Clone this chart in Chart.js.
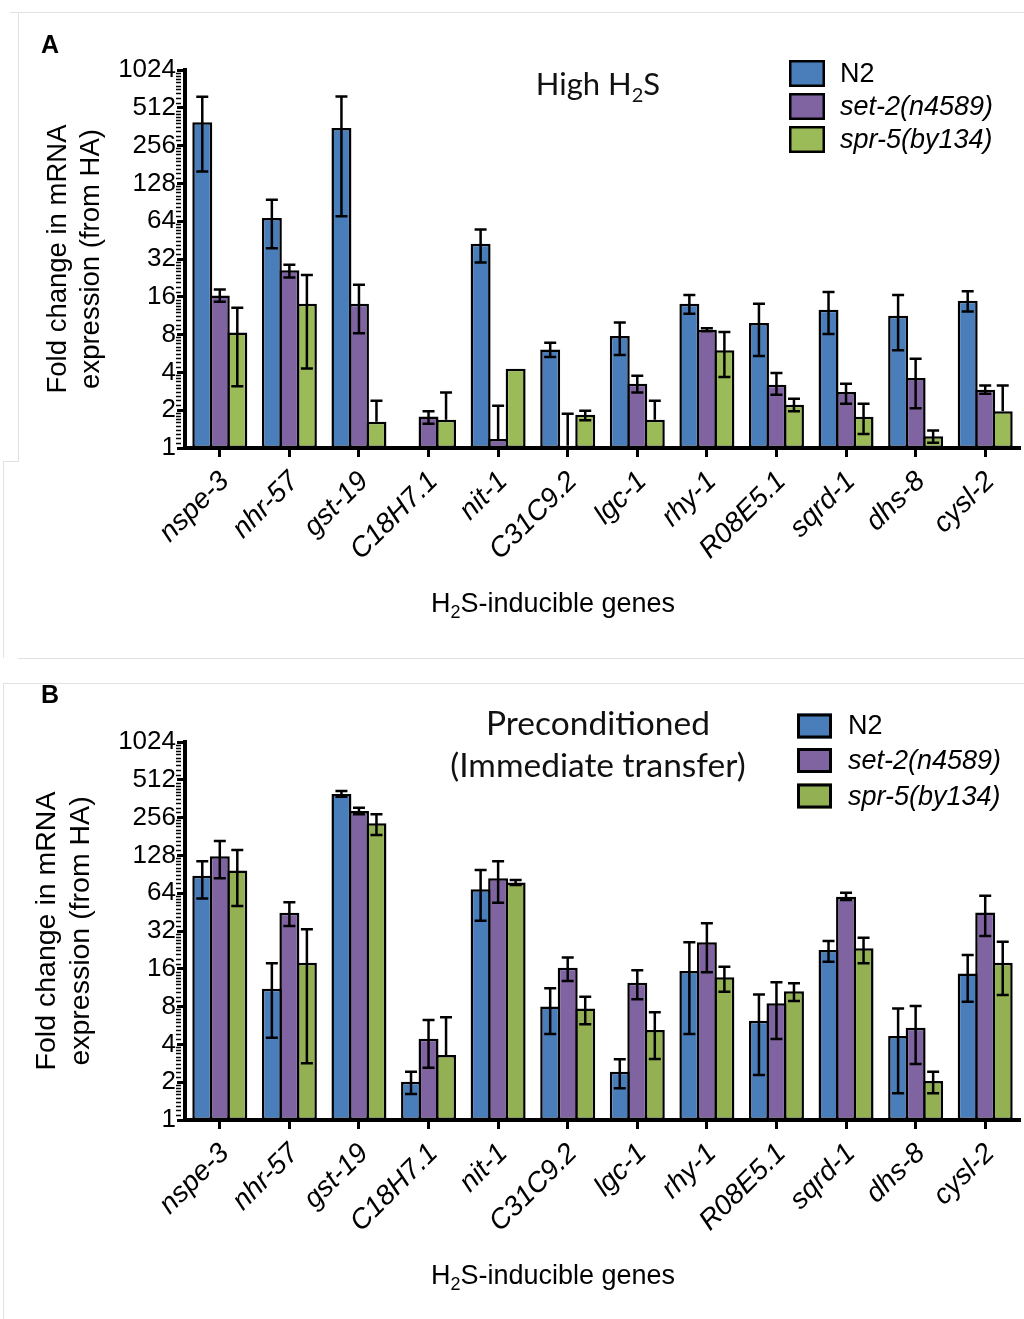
<!DOCTYPE html>
<html>
<head>
<meta charset="utf-8">
<script src="https://cdn.jsdelivr.net/npm/chart.js@4.4.1/dist/chart.umd.min.js"></script>
<style>
  html, body { margin: 0; padding: 0; background: #fff; }
  body { width: 1024px; height: 1319px; position: relative; overflow: hidden; }
  .panel { position: absolute; left: 0; width: 1024px; height: 647px; }
  #panelA { top: 0; }
  #panelB { top: 672px; }
  .rule { position: absolute; background: #e2e2e2; }
</style>
</head>
<body>
<!-- light frame lines around the two panels -->
<div class="rule" style="left:10px;top:12px;width:1014px;height:1px"></div>
<div class="rule" style="left:18px;top:12px;width:1px;height:449px"></div>
<div class="rule" style="left:3px;top:461px;width:16px;height:1px"></div>
<div class="rule" style="left:3px;top:461px;width:1px;height:197px"></div>
<div class="rule" style="left:18px;top:658px;width:1006px;height:1px"></div>
<div class="rule" style="left:3px;top:683px;width:1021px;height:1px"></div>
<div class="rule" style="left:3px;top:683px;width:1px;height:636px"></div>

<div class="panel" id="panelA"><canvas id="chartA" width="1024" height="647"></canvas></div>
<div class="panel" id="panelB"><canvas id="chartB" width="1024" height="647"></canvas></div>

<script>
// ---- data ----
const genes = ['nspe-3', 'nhr-57', 'gst-19', 'C18H7.1', 'nit-1', 'C31C9.2',
               'lgc-1', 'rhy-1', 'R08E5.1', 'sqrd-1', 'dhs-8', 'cysl-2'];
const strains = ['N2', 'set-2(n4589)', 'spr-5(by134)'];
const yTickValues = [1, 2, 4, 8, 16, 32, 64, 128, 256, 512, 1024];

// Panel A: high H2S (fold change, with lower / upper error bounds)
const highN2     = [393, 68, 353, null, 42.3, 6.1, 7.8, 14.1, 9.9, 12.6, 11.3, 14.9];
const highN2Lo   = [159, 39, 70, null, 30, 5.3, 5.5, 11.7, 5.4, 8.1, 6.0, 12.2];
const highN2Hi   = [627, 95, 630, null, 55, 6.9, 10.0, 16.5, 14.1, 17.5, 16.5, 17.7];
const highSet2   = [16.4, 26, 14.1, 1.78, 1.18, 1.04, 3.25, 8.75, 3.19, 2.79, 3.61, 2.91];
const highSet2Lo = [14.6, 22.8, 8.2, 1.56, null, null, 2.77, 8.5, 2.66, 2.25, 2.07, 2.71];
const highSet2Hi = [18.3, 28.8, 20, 1.96, 2.17, 1.87, 3.76, 9.0, 3.95, 3.25, 5.14, 3.15];
const highSpr5   = [8.3, 14.1, 1.62, 1.68, 4.28, 1.84, 1.68, 6.0, 2.21, 1.77, 1.24, 1.96];
const highSpr5Lo = [3.1, 4.3, null, null, null, 1.66, null, 3.67, 1.96, 1.29, 1.1, null];
const highSpr5Hi = [13.1, 23.9, 2.38, 2.77, null, 1.98, 2.38, 8.4, 2.47, 2.25, 1.38, 3.15];

// Panel B: preconditioned, immediate transfer
const preN2     = [88, 11.1, 394, 2.02, 68.8, 8.0, 2.42, 15.4, 6.17, 22.6, 4.66, 14.7];
const preN2Lo   = [58, 4.52, 375, 1.61, 38.7, 4.84, 1.79, 4.84, 2.28, 18.2, 1.63, 8.75];
const preN2Hi   = [115, 17.7, 417, 2.42, 98, 11.2, 3.04, 26, 10.0, 26.6, 7.74, 20.6];
const preSet2   = [126, 44.8, 289, 4.44, 84, 16.3, 12.4, 26, 8.5, 60, 5.43, 45];
const preSet2Lo = [84, 35, 272, 2.61, 53.8, 12.8, 9.14, 15.0, 4.42, 56.5, 2.79, 29.2];
const preSet2Hi = [167, 54.2, 307, 6.26, 115, 19.7, 15.6, 36.9, 12.5, 64.6, 8.1, 61];
const preSpr5   = [97, 17.9, 231, 3.29, 78, 7.74, 5.21, 13.7, 10.6, 23.3, 2.04, 17.9];
const preSpr5Lo = [50.6, 2.83, 186, null, 74.5, 5.78, 3.06, 10.5, 8.87, 17.7, 1.63, 9.9];
const preSpr5Hi = [141, 33, 272, 6.58, 81.5, 9.6, 7.2, 16.6, 12.3, 28.3, 2.42, 26.3];

const SANS = '"Liberation Sans", Arial, sans-serif';
const TITLE_FONT = 'Lato, "Open Sans", sans-serif';

// ---- plugins ----
const errorBars = {
  id: 'errorBars',
  afterDatasetsDraw(chart) {
    const ctx = chart.ctx, ys = chart.scales.y, area = chart.chartArea;
    ctx.save();
    ctx.beginPath();
    ctx.rect(area.left, area.top - 30, area.right - area.left, area.bottom - area.top + 30);
    ctx.clip();
    ctx.strokeStyle = '#000';
    ctx.lineWidth = 2.5;
    chart.data.datasets.forEach((ds, i) => {
      const meta = chart.getDatasetMeta(i);
      meta.data.forEach((bar, j) => {
        const hi = ds.errHi[j], lo = ds.errLo[j];
        if (ds.data[j] == null || hi == null) return;
        const x = bar.x, half = 6;
        const yHi = ys.getPixelForValue(hi);
        const yLo = lo == null ? bar.y : ys.getPixelForValue(lo);
        ctx.beginPath();
        ctx.moveTo(x, yHi); ctx.lineTo(x, yLo);
        ctx.moveTo(x - half, yHi); ctx.lineTo(x + half, yHi);
        if (lo != null) { ctx.moveTo(x - half, yLo); ctx.lineTo(x + half, yLo); }
        ctx.stroke();
      });
    });
    ctx.restore();
  }
};

// small ticks between the powers of two on the log axis
const minorTicks = {
  id: 'minorTicks',
  afterDraw(chart) {
    const ys = chart.scales.y, ctx = chart.ctx;
    const xAxis = chart.chartArea.left - 4;
    ctx.save();
    ctx.strokeStyle = '#000';
    ctx.lineWidth = 1.5;
    ctx.beginPath();
    for (let k = 0; k < yTickValues.length - 1; k++) {
      const base = yTickValues[k];
      for (let j = 1; j <= 9; j++) {
        const py = Math.round(ys.getPixelForValue(base * (1 + j / 10))) + 0.5;
        ctx.moveTo(xAxis - 5, py);
        ctx.lineTo(xAxis, py);
      }
    }
    ctx.stroke();
    ctx.restore();
  }
};

function drawRich(ctx, parts, cx, baseline, size, family) {
  const subSize = Math.round(size * 0.66);
  const widths = parts.map(([t, sub]) => {
    ctx.font = `${sub ? subSize : size}px ${family}`;
    return ctx.measureText(t).width;
  });
  let x = cx - widths.reduce((a, b) => a + b, 0) / 2;
  ctx.textAlign = 'left';
  ctx.textBaseline = 'alphabetic';
  parts.forEach(([t, sub], i) => {
    ctx.font = `${sub ? subSize : size}px ${family}`;
    ctx.fillText(t, x, baseline + (sub ? size * 0.22 : 0));
    x += widths[i];
  });
}

const decor = {
  id: 'decor',
  afterDraw(chart, args, o) {
    const ctx = chart.ctx;
    ctx.save();
    ctx.fillStyle = '#000';
    // panel letter
    ctx.font = `bold 25px ${SANS}`;
    ctx.textAlign = 'left';
    ctx.textBaseline = 'alphabetic';
    ctx.fillText(o.letter.text, o.letter.x, o.letter.y);
    // panel heading
    ctx.fillStyle = '#111';
    o.heading.lines.forEach(line => drawRich(ctx, line.parts, o.heading.cx, line.y, o.heading.size, TITLE_FONT));
    // x-axis title
    ctx.fillStyle = '#000';
    drawRich(ctx, o.xTitle.parts, o.xTitle.cx, o.xTitle.y, 27, SANS);
    // legend
    const L = o.legend;
    chart.data.datasets.forEach((ds, i) => {
      const cy = L.ys[i];
      ctx.fillStyle = ds.backgroundColor;
      ctx.fillRect(L.x, cy - L.h / 2, L.w, L.h);
      ctx.strokeStyle = '#000';
      ctx.lineWidth = L.lw;
      ctx.strokeRect(L.x + L.lw / 2, cy - L.h / 2 + L.lw / 2, L.w - L.lw, L.h - L.lw);
      ctx.fillStyle = '#000';
      ctx.font = `${i === 0 ? '' : 'italic '}27px ${SANS}`;
      ctx.textBaseline = 'middle';
      ctx.fillText(ds.label, L.textX, cy + 1);
    });
    ctx.restore();
  }
};

function buildChart(canvasId, series, colors, opts) {
  return new Chart(document.getElementById(canvasId), {
    type: 'bar',
    data: {
      labels: genes,
      datasets: series.map((s, i) => ({
        label: strains[i],
        data: s[0], errLo: s[1], errHi: s[2],
        backgroundColor: colors[i],
        borderColor: '#000',
        borderWidth: 2.5,
        borderSkipped: false,
        categoryPercentage: 0.755,
        barPercentage: 1.14
      }))
    },
    options: {
      responsive: false,
      animation: false,
      devicePixelRatio: 1,
      layout: { padding: { top: 70, right: 4, left: 0, bottom: 0 } },
      plugins: {
        legend: { display: false },
        tooltip: { enabled: false },
        decor: opts.decor
      },
      scales: {
        x: {
          grid: { display: true, drawOnChartArea: false, offset: false, tickLength: 9, tickWidth: 3, tickColor: '#000' },
          border: { display: true, color: '#000', width: 4 },
          ticks: {
            autoSkip: false, minRotation: 45, maxRotation: 45, padding: 8, labelOffset: 5, color: '#000',
            font: { family: SANS, size: 28, style: 'italic' }
          },
          afterFit(scale) { scale.height = 199; }
        },
        y: {
          type: 'logarithmic',
          min: 1, max: 1024,
          afterBuildTicks(scale) { scale.ticks = yTickValues.map(v => ({ value: v })); },
          grid: { drawOnChartArea: false, tickLength: 8, tickWidth: 3, tickColor: '#000' },
          border: { display: true, color: '#000', width: 4 },
          ticks: {
            autoSkip: false, padding: 1, color: '#000',
            font: { family: SANS, size: 26 },
            callback: v => String(v)
          },
          title: {
            display: true,
            text: ['Fold change in mRNA', 'expression (from HA)'],
            color: '#000',
            font: { family: SANS, size: opts.yTitleSize, lineHeight: 1.2 },
            padding: { top: opts.yTitlePad, bottom: 0 }
          },
          afterFit(scale) { scale.width = 185; }
        }
      }
    },
    plugins: [errorBars, minorTicks, decor]
  });
}

const xTitleParts = [['H', false], ['2', true], ['S-inducible genes', false]];

buildChart('chartA',
  [[highN2, highN2Lo, highN2Hi], [highSet2, highSet2Lo, highSet2Hi], [highSpr5, highSpr5Lo, highSpr5Hi]],
  ['#4a7ebb', '#8064a2', '#9bbb59'],
  {
    yTitleSize: 27.5, yTitlePad: 42,
    decor: {
      letter: { text: 'A', x: 41, y: 53 },
      heading: { cx: 598, size: 31, lines: [{ y: 95, parts: [['High H', false], ['2', true], ['S', false]] }] },
      xTitle: { cx: 553, y: 612, parts: xTitleParts },
      legend: { x: 789, w: 36, h: 27, lw: 2.5, ys: [73.5, 106.5, 139.5], textX: 840 }
    }
  });

buildChart('chartB',
  [[preN2, preN2Lo, preN2Hi], [preSet2, preSet2Lo, preSet2Hi], [preSpr5, preSpr5Lo, preSpr5Hi]],
  ['#4a7ebb', '#8064a2', '#93b152'],
  {
    yTitleSize: 28.5, yTitlePad: 30,
    decor: {
      letter: { text: 'B', x: 41, y: 31 },
      heading: { cx: 598, size: 33.5, lines: [
        { y: 63, parts: [['Preconditioned', false]] },
        { y: 105, parts: [['(Immediate transfer)', false]] }
      ] },
      xTitle: { cx: 553, y: 612, parts: xTitleParts },
      legend: { x: 797, w: 35, h: 25, lw: 3, ys: [54, 88.5, 124], textX: 848 }
    }
  });
</script>
</body>
</html>
